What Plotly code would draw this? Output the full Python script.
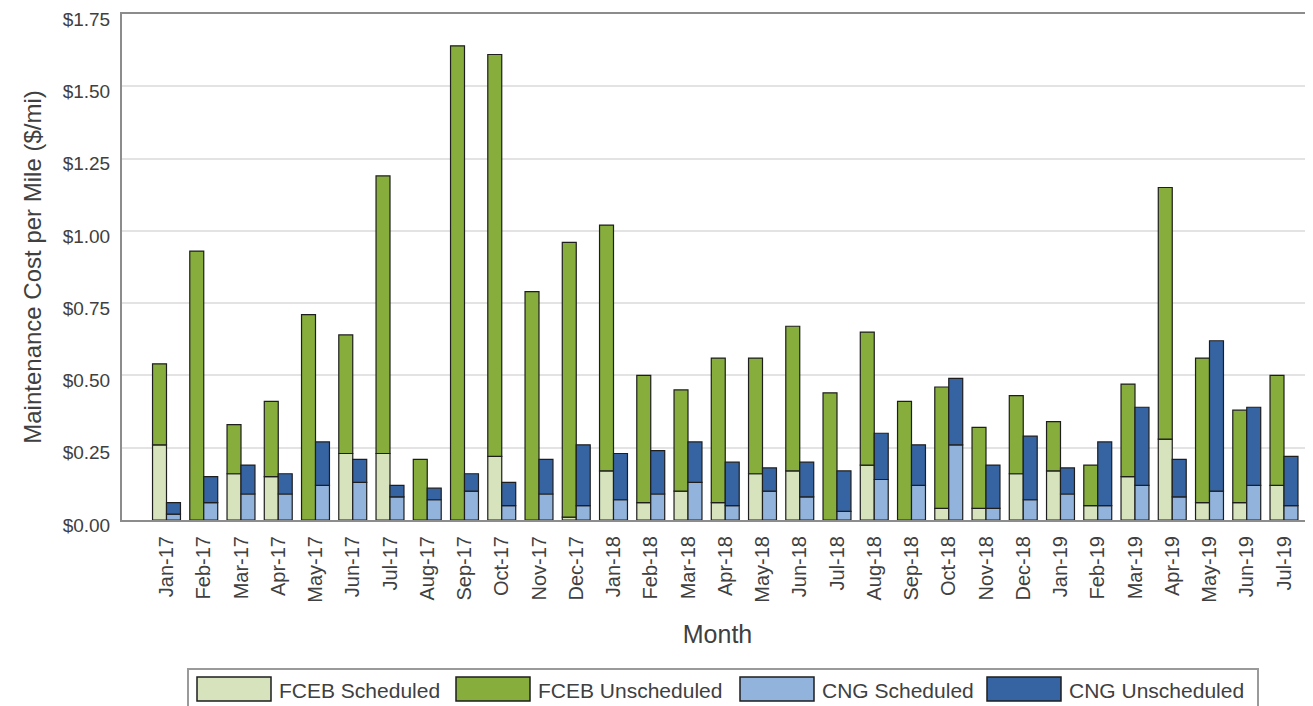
import plotly.graph_objects as go

# monthly maintenance cost per mile ($/mi)
months = [
    "Jan-17", "Feb-17", "Mar-17", "Apr-17", "May-17", "Jun-17", "Jul-17", "Aug-17",
    "Sep-17", "Oct-17", "Nov-17", "Dec-17", "Jan-18", "Feb-18", "Mar-18", "Apr-18",
    "May-18", "Jun-18", "Jul-18", "Aug-18", "Sep-18", "Oct-18", "Nov-18", "Dec-18",
    "Jan-19", "Feb-19", "Mar-19", "Apr-19", "May-19", "Jun-19", "Jul-19",
]
fceb_sched = [0.26, 0.00, 0.16, 0.15, 0.00, 0.23, 0.23, 0.00, 0.00, 0.22, 0.00, 0.01,
              0.17, 0.06, 0.10, 0.06, 0.16, 0.17, 0.00, 0.19, 0.00, 0.04, 0.04, 0.16,
              0.17, 0.05, 0.15, 0.28, 0.06, 0.06, 0.12]
fceb_unsched = [0.28, 0.93, 0.17, 0.26, 0.71, 0.41, 0.96, 0.21, 1.64, 1.39, 0.79, 0.95,
                0.85, 0.44, 0.35, 0.50, 0.40, 0.50, 0.44, 0.46, 0.41, 0.42, 0.28, 0.27,
                0.17, 0.14, 0.32, 0.87, 0.50, 0.32, 0.38]
cng_sched = [0.02, 0.06, 0.09, 0.09, 0.12, 0.13, 0.08, 0.07, 0.10, 0.05, 0.09, 0.05,
             0.07, 0.09, 0.13, 0.05, 0.10, 0.08, 0.03, 0.14, 0.12, 0.26, 0.04, 0.07,
             0.09, 0.05, 0.12, 0.08, 0.10, 0.12, 0.05]
cng_unsched = [0.04, 0.09, 0.10, 0.07, 0.15, 0.08, 0.04, 0.04, 0.06, 0.08, 0.12, 0.21,
               0.16, 0.15, 0.14, 0.15, 0.08, 0.12, 0.14, 0.16, 0.14, 0.23, 0.15, 0.22,
               0.09, 0.22, 0.27, 0.13, 0.52, 0.27, 0.17]

y_ticks = [0, 0.25, 0.5, 0.75, 1.0, 1.25, 1.5, 1.75]

COLORS = {
    "FCEB Scheduled": "#d6e3bc",
    "FCEB Unscheduled": "#87ad3d",
    "CNG Scheduled": "#92b3dc",
    "CNG Unscheduled": "#3664a2",
}
FONT = "Liberation Sans, Arial, sans-serif"
TEXT = "#404040"

# the page body has an 8px margin, so work in page pixels and shift by it
OFF = 8
W, H = 1313 - OFF, 706 - OFF
L, R, T, B = 122, 1313, 14, 520   # plot area in page pixels


def px_x(x):
    return (x - L) / (R - L)


def px_y(y):
    return (B - y) / (B - T)


fig = go.Figure()
bar_w = 0.375
series = [
    ("FCEB Scheduled", fceb_sched, None, -bar_w),
    ("FCEB Unscheduled", fceb_unsched, fceb_sched, -bar_w),
    ("CNG Scheduled", cng_sched, None, 0.0),
    ("CNG Unscheduled", cng_unsched, cng_sched, 0.0),
]
for name, vals, base, offset in series:
    fig.add_trace(go.Bar(
        x=months, y=vals, base=base, name=name,
        offset=offset, width=bar_w,
        marker=dict(color=COLORS[name], line=dict(color="#1e1e1e", width=1.2)),
        showlegend=False,
    ))

# x range chosen so category centres land where the reference puts them
x_lo = (L - 166.5) / 37.25
x_hi = (R - 166.5) / 37.25

fig.update_layout(
    width=W, height=H, barmode="overlay",
    margin=dict(l=L - OFF, r=0, t=T - OFF, b=(706 - B)),
    plot_bgcolor="white", paper_bgcolor="white",
    font=dict(family=FONT, color=TEXT),
    xaxis=dict(
        type="category", range=[x_lo, x_hi], tickangle=-90, automargin=False,
        tickfont=dict(size=20, color=TEXT), ticklabelstandoff=6,
        showline=True, linecolor="#8c8c8c", linewidth=2, mirror=True,
        showgrid=False, ticks="",
        title=dict(text="Month", font=dict(size=25, color=TEXT), standoff=24),
    ),
    yaxis=dict(
        range=[0, 1.75], tickvals=y_ticks, automargin=False,
        ticktext=[f"${v:.2f}" for v in y_ticks],
        tickfont=dict(size=19, color=TEXT), ticklabelstandoff=6,
        ticklabelshift=5, ticklabeloverflow="allow",
        showline=True, linecolor="#8c8c8c", linewidth=2,
        showgrid=True, gridcolor="#e3e3e3", gridwidth=1.5, zeroline=False,
        title=dict(text="Maintenance Cost per Mile ($/mi)",
                   font=dict(size=24, color=TEXT), standoff=14),
    ),
)

# legend drawn by hand to get the wide Excel-style swatches
fig.add_shape(type="rect", xref="paper", yref="paper",
              x0=px_x(188), x1=px_x(1258), y0=px_y(669), y1=px_y(712),
              line=dict(color="#9a9a9a", width=2), fillcolor="white")
legend_items = [("FCEB Scheduled", 197), ("FCEB Unscheduled", 456),
                ("CNG Scheduled", 740), ("CNG Unscheduled", 987)]
for name, sx in legend_items:
    fig.add_shape(type="rect", xref="paper", yref="paper",
                  x0=px_x(sx), x1=px_x(sx + 74), y0=px_y(677), y1=px_y(701),
                  line=dict(color="#1e1e1e", width=1.5), fillcolor=COLORS[name])
    fig.add_annotation(text=name, xref="paper", yref="paper",
                       x=px_x(sx + 80), y=px_y(690), xanchor="left", yanchor="middle",
                       showarrow=False, font=dict(size=21, color=TEXT))

fig.write_html("out.html")
